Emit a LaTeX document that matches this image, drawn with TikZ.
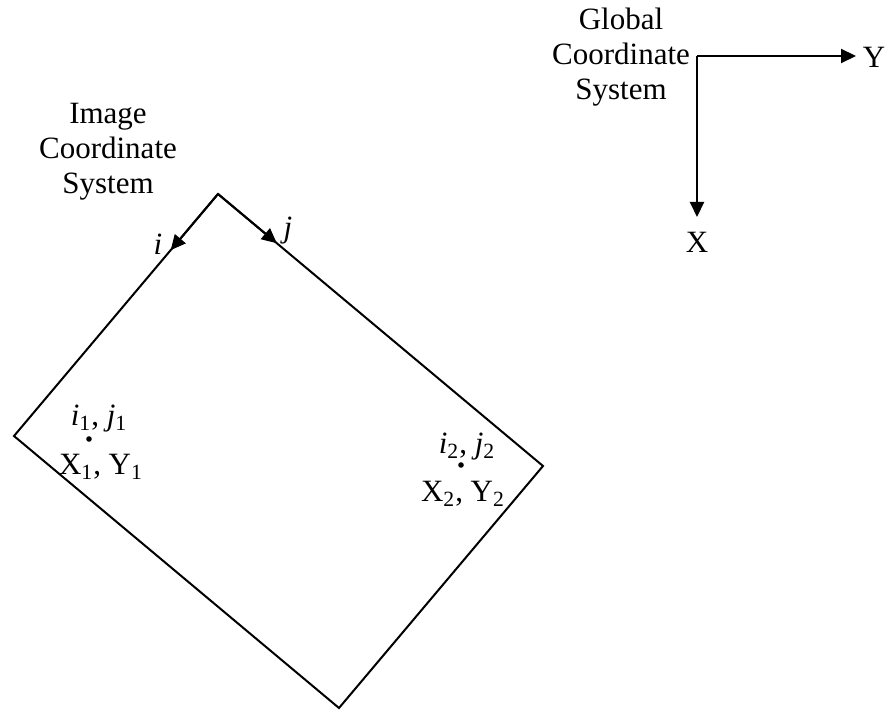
\documentclass[tikz,border=0pt]{standalone}
\usepackage{fontspec}
\setmainfont{Liberation Serif}
\usepackage{tikz}
\usetikzlibrary{arrows.meta,calc}

\begin{document}
\begin{tikzpicture}[
  x=0.5pt, y=-0.5pt,
  font=\fontsize{15.5}{17.5}\selectfont,
  frame/.style={line width=1pt, line join=miter},
  line/.style={-{Triangle[length=7.5pt,width=7pt]}, line width=1pt},
  title/.style={align=center, inner sep=0pt},
  lbl/.style={inner sep=0pt},
  pt/.style={circle, fill, inner sep=0pt, minimum size=2.8pt}
]
\useasboundingbox (0,0) rectangle (887,711);

% image frame
\coordinate (top) at (218,194);
\coordinate (left) at (14,436);
\coordinate (bottom) at (339,708);
\coordinate (right) at (543,466);
\draw[frame] (top) -- (left) -- (bottom) -- (right) -- cycle;

\coordinate (itip) at ($(top)!0.232!(left)$);
\coordinate (jtip) at ($(top)!0.181!(right)$);
\draw[line] (top) -- (itip);
\draw[line] (top) -- (jtip);
\node[lbl] (ilab) at (158,244) {\textit{i}};
\node[lbl] (jlab) at (288,231) {\textit{j}};

\node[title] (imgsys) at (108,152) {Image\\Coordinate\\System};

% points
\node[pt] (p1) at (89,439) {};
\node[lbl] (p1ij) at (99,419) {\textit{i}\textsubscript{1}, \textit{j}\textsubscript{1}};
\node[lbl] (p1xy) at (101,467) {X\textsubscript{1}, Y\textsubscript{1}};

\node[pt] (p2) at (461,465) {};
\node[lbl] (p2ij) at (467,447) {\textit{i}\textsubscript{2}, \textit{j}\textsubscript{2}};
\node[lbl] (p2xy) at (463,494) {X\textsubscript{2}, Y\textsubscript{2}};

% global axes
\node[title] (glbsys) at (621,57) {Global\\Coordinate\\System};
\coordinate (gorg) at (697,56);
\coordinate (gy) at (856,56);
\coordinate (gx) at (697,217);
\node[lbl] (ylab) at (874,57) {Y};
\node[lbl] (xlab) at (697,242) {X};
\draw[line] (gorg) -- (gy);
\draw[line] (gorg) -- (gx);
\end{tikzpicture}
\end{document}
